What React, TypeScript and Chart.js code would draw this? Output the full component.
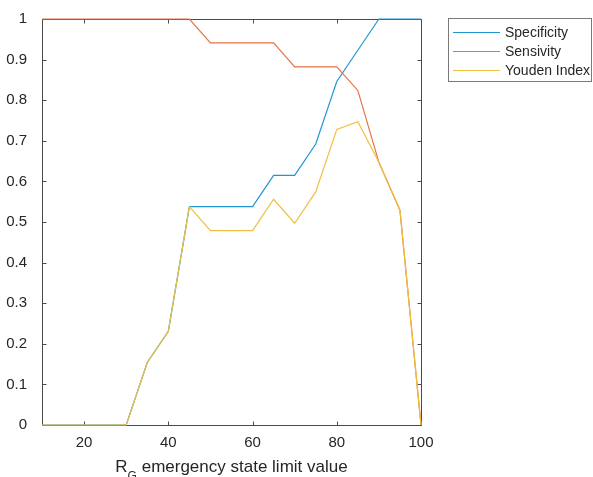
import React, { useEffect, useRef } from "react";
import { Chart, registerables } from "chart.js";

Chart.register(...registerables);

const xValues = [10, 15, 20, 25, 30, 35, 40, 45, 50, 55, 60, 65, 70, 75, 80, 85, 90, 95, 100];
const specificity = [0, 0, 0, 0, 0, 0.154, 0.231, 0.538, 0.538, 0.538, 0.538, 0.615, 0.615, 0.692, 0.846, 0.923, 1, 1, 1];
const sensitivity = [1, 1, 1, 1, 1, 1, 1, 1, 0.941, 0.941, 0.941, 0.941, 0.882, 0.882, 0.882, 0.824, 0.647, 0.529, 0];
const youden = [0, 0, 0, 0, 0, 0.154, 0.231, 0.538, 0.479, 0.479, 0.479, 0.556, 0.497, 0.574, 0.728, 0.747, 0.647, 0.529, 0];
const seriesLabels = ["Specificity", "Sensivity", "Youden Index"];
const seriesColors = ["#2196d3", "#e57345", "#efbf3f"];
const xTickValues = [20, 40, 60, 80, 100];
const titleMain = "R";
const titleSub = "G";
const titleRest = " emergency state limit value";

const FONT = "'Liberation Sans', Arial, Helvetica, sans-serif";
const AXIS_COLOR = "#4a4a4a";
const TEXT_COLOR = "#262626";

const matlabPlugin = {
  id: "matlabAxes",
  beforeDatasetsDraw(chart: any) {
    const ctx = chart.ctx;
    const { left, right, top, bottom } = chart.chartArea;
    const xs = chart.scales.x;
    const ys = chart.scales.y;
    const L = Math.round(left) + 0.5;
    const R = Math.round(right) + 0.5;
    const T = Math.round(top) + 0.5;
    const B = Math.round(bottom) + 0.5;
    ctx.save();
    ctx.strokeStyle = AXIS_COLOR;
    ctx.lineWidth = 1;
    ctx.beginPath();
    ctx.rect(L, T, R - L, B - T);
    ctx.stroke();
    const tl = 4;
    ctx.beginPath();
    for (const t of xs.ticks) {
      const px = Math.round(xs.getPixelForValue(t.value)) + 0.5;
      ctx.moveTo(px, B);
      ctx.lineTo(px, B - tl);
      ctx.moveTo(px, T);
      ctx.lineTo(px, T + tl);
    }
    for (const t of ys.ticks) {
      const py = Math.round(ys.getPixelForValue(t.value)) + 0.5;
      ctx.moveTo(L, py);
      ctx.lineTo(L + tl, py);
      ctx.moveTo(R, py);
      ctx.lineTo(R - tl, py);
    }
    ctx.stroke();
    ctx.restore();
  },
  afterDraw(chart: any) {
    const ctx = chart.ctx;
    const { left, right } = chart.chartArea;
    ctx.save();
    // x-axis title with subscript
    const mainFont = `17px ${FONT}`;
    const subFont = `12px ${FONT}`;
    ctx.font = mainFont;
    const wMain = ctx.measureText(titleMain).width;
    const wRest = ctx.measureText(titleRest).width;
    ctx.font = subFont;
    const wSub = ctx.measureText(titleSub).width;
    const total = wMain + wSub + wRest;
    const cx = (left + right) / 2;
    let x = cx - total / 2;
    const baseline = 472;
    ctx.fillStyle = TEXT_COLOR;
    ctx.textBaseline = "alphabetic";
    ctx.textAlign = "left";
    ctx.font = mainFont;
    ctx.fillText(titleMain, x, baseline);
    x += wMain;
    ctx.font = subFont;
    ctx.fillText(titleSub, x, baseline + 8);
    x += wSub;
    ctx.font = mainFont;
    ctx.fillText(titleRest, x, baseline);

    // legend
    const bx = 448.5, by = 18.5, bw = 143, bh = 63;
    ctx.fillStyle = "#ffffff";
    ctx.fillRect(bx, by, bw, bh);
    ctx.lineWidth = 1;
    ctx.strokeStyle = "#7a7a7a";
    ctx.strokeRect(bx, by, bw, bh);
    ctx.font = `14px ${FONT}`;
    ctx.textBaseline = "middle";
    chart.data.datasets.forEach((ds: any, i: number) => {
      const y = 32.5 + i * 19;
      ctx.strokeStyle = ds.borderColor;
      ctx.lineWidth = 1.2;
      ctx.beginPath();
      ctx.moveTo(453, y);
      ctx.lineTo(500, y);
      ctx.stroke();
      ctx.fillStyle = TEXT_COLOR;
      ctx.fillText(ds.label, 505, y + 1);
    });
    ctx.restore();
  },
};

export default function App() {
  const ref = useRef<HTMLCanvasElement | null>(null);
  useEffect(() => {
    if (!ref.current) return;
    const series = [specificity, sensitivity, youden];
    const chart = new Chart(ref.current, {
      type: "line",
      data: {
        datasets: series.map((arr, i) => ({
          label: seriesLabels[i],
          data: arr.map((v, j) => ({ x: xValues[j], y: v })),
          borderColor: seriesColors[i],
          backgroundColor: seriesColors[i],
          borderWidth: 1.2,
          pointRadius: 0,
          tension: 0,
          fill: false,
          clip: 2,
          order: 3 - i,
        })),
      },
      options: {
        animation: false,
        responsive: false,
        devicePixelRatio: 1,
        layout: { padding: { left: 0, right: 172, top: 19, bottom: 0 } },
        plugins: { legend: { display: false }, tooltip: { enabled: false } },
        scales: {
          x: {
            type: "linear",
            min: 10,
            max: 100,
            border: { display: false },
            grid: { display: false },
            afterBuildTicks: (scale: any) => {
              scale.ticks = xTickValues.map((v) => ({ value: v }));
            },
            afterFit: (scale: any) => {
              scale.height = 52;
            },
            ticks: {
              padding: 1,
              color: TEXT_COLOR,
              font: { family: FONT, size: 15 },
              maxRotation: 0,
              autoSkip: false,
            },
          },
          y: {
            min: 0,
            max: 1,
            border: { display: false },
            grid: { display: false },
            afterFit: (scale: any) => {
              scale.width = 42;
            },
            ticks: {
              stepSize: 0.1,
              padding: 7,
              color: TEXT_COLOR,
              font: { family: FONT, size: 15 },
              callback: (v: any) => String(Number(Number(v).toFixed(1))),
            },
          },
        },
      },
      plugins: [matlabPlugin],
    });
    return () => chart.destroy();
  }, []);
  return (
    <div style={{ position: "absolute", left: 0, top: 0, width: 593, height: 477, background: "#fff" }}>
      <canvas ref={ref} width={593} height={477} />
    </div>
  );
}
